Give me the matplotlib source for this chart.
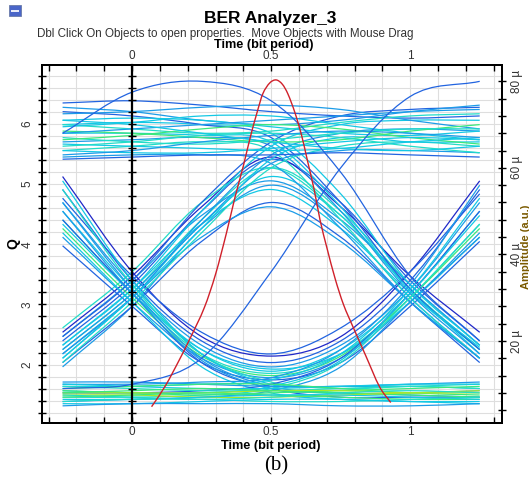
import matplotlib.pyplot as plt
from matplotlib.path import Path
from matplotlib.patches import PathPatch, Rectangle
from matplotlib.ticker import MultipleLocator, FixedLocator, FuncFormatter
import numpy as np

plt.rcParams['font.family'] = ['Liberation Sans', 'DejaVu Sans']

# eye traces, amplitude in micro units sampled every quarter bit
t_samples = [-0.25, 0, 0.25, 0.5, 0.75, 1.0, 1.25]

high_rail = [
    [75, 75.5, 74.5, 73, 72, 71.5, 72],
    [74, 73, 71, 70, 71, 73, 74.5],
    [72.5, 73, 74, 74.5, 73.5, 71, 69],
    [71, 71.5, 71, 69.5, 68, 67.5, 68.5],
    [70, 69, 68, 68.5, 70.5, 72, 72.5],
    [69.5, 70.5, 72, 72, 70, 68, 66.5],
    [68.5, 68, 67, 66, 66.5, 68.5, 70],
    [68, 69, 70, 71, 72, 73, 73.5],
    [67, 66, 65.5, 66.5, 68, 69, 69],
    [66.5, 67.5, 69, 70, 69, 67, 65.5],
    [65.5, 65, 64.5, 64, 64.5, 66, 67],
    [65, 66, 67.5, 68, 67, 65, 63.5],
    [64, 63.5, 63.5, 64.5, 66, 67, 66.5],
    [63, 64, 66, 67.5, 68.5, 68, 67],
    [62, 62.5, 63, 63, 63.5, 63, 62.5],
    [71, 70, 68, 66, 64.5, 64, 65],
]
low_rail = [
    [10.5, 10.5, 10, 9.5, 9.5, 10, 10.5],
    [10, 9.5, 9, 9, 9.5, 10, 10],
    [9.5, 9, 8.5, 8.5, 9, 9.5, 9],
    [9, 9.5, 10, 10, 9, 8, 7.5],
    [8.5, 8, 7.5, 8, 8.5, 9, 9.5],
    [8, 8, 8, 8.5, 8.5, 8, 8],
    [8, 8.5, 9, 8.5, 8, 7.5, 7],
    [7.5, 7.5, 7, 7, 7.5, 8, 8.5],
    [7.5, 7, 6.5, 7, 8, 8.5, 8],
    [7, 7.5, 8, 7.5, 7, 6.5, 6.5],
    [6.5, 6.5, 7, 7.5, 7.5, 7, 6.5],
    [6, 6.5, 6.5, 6, 6, 6.5, 7],
    [5.5, 5.5, 6, 6.5, 6.5, 6, 5.5],
    [5, 5.5, 5.5, 5.5, 5, 5, 5.5],
]
# isolated ones (0-1-0)
cap_traces = [
    [14, 28, 46, 56, 47, 30, 16],
    [16, 30, 47, 58, 49, 32, 17],
    [18, 31, 48, 60, 50, 33, 19],
    [20, 33, 50, 62, 52, 34, 20],
    [22, 35, 51, 62.5, 51, 35, 22],
    [15, 28, 43, 52, 44, 29, 15],
    [17, 30, 44, 51, 43, 29, 16],
    [19, 32, 47, 55, 46, 31, 18],
    [21, 34, 49, 57, 48, 33, 19],
    [23, 36, 52, 60, 49, 32, 18],
]
# isolated zeros (1-0-1)
cup_traces = [
    [58, 36, 21, 16.5, 21, 36, 57],
    [55, 34, 20, 15, 20, 34, 55],
    [52, 33, 19, 14, 19, 32, 52],
    [50, 32, 18, 13, 18, 31, 50],
    [48, 31, 17, 12.5, 17, 30, 47],
    [46, 30, 16.5, 12, 16.5, 30, 46],
    [44, 29, 16, 11.5, 16, 29, 45],
    [42, 28, 15, 11, 15, 28, 43],
    [53, 35, 22, 17, 23, 36, 54],
    [47, 31, 18, 13.5, 17, 29, 44],
]
one_one_zero = [
    [70, 70.5, 70, 68, 54, 33, 19],
    [66, 66.5, 67, 65, 50, 31, 17],
    [73, 72, 70, 67, 52, 32, 18],
    [64, 65, 66, 64, 48, 30, 16],
    [68, 68, 67.5, 66, 51, 31.5, 18.5],
    [62.5, 63, 63, 61, 46, 29, 16],
]
zero_one_one = [
    [17, 30, 48, 63, 68, 69, 68.5],
    [19, 32, 50, 65, 70, 71, 71],
    [15, 29, 45, 60, 65, 66, 65],
    [21, 34, 52, 66, 72, 73.5, 74],
    [18, 31, 47, 61, 64, 64, 63.5],
    [16, 30, 46, 62, 67, 66, 66],
]
one_zero_zero = [
    [52, 32, 16, 9.5, 8, 8, 8.5],
    [48, 31, 15, 9, 7, 7, 7],
    [55, 33, 17, 10.5, 9, 9.5, 10],
    [45, 29, 14, 8, 6.5, 6, 6],
    [50, 31, 15.5, 9, 8, 7.5, 7],
    [57, 34, 17, 10, 9.5, 9.5, 9],
]
zero_zero_one = [
    [8, 8, 8.5, 10, 16, 31, 50],
    [7, 7, 7.5, 9, 15, 30, 47],
    [9.5, 9.5, 10, 11, 17, 32, 53],
    [6, 6.5, 7, 8.5, 14, 29, 44],
    [8.5, 8, 8, 9.5, 15.5, 31, 49],
    [10, 10, 10.5, 11.5, 18, 33, 56],
]
big_arcs = [
    [68, 77.5, 80, 75.5, 59, 35, 20],
    [9, 10, 16, 36, 60, 76.5, 80],
]

# Q factor versus decision instant
q_time = [0.07, 0.12, 0.17, 0.21, 0.26, 0.30, 0.34, 0.37, 0.40, 0.425, 0.45,
          0.47, 0.495, 0.518, 0.54, 0.56, 0.586, 0.61, 0.63, 0.655, 0.676,
          0.70, 0.73, 0.76, 0.795, 0.84, 0.89, 0.93]
q_value = [1.30, 1.65, 2.08, 2.45, 2.95, 3.50, 4.20, 4.78, 5.30, 5.78, 6.20,
           6.50, 6.68, 6.73, 6.66, 6.50, 6.18, 5.80, 5.40, 4.90, 4.40,
           3.95, 3.43, 3.00, 2.62, 2.15, 1.63, 1.37]

# density colours
DB, BL, AZ, CY, AQ, GR, LI = ('#2028c8', '#2264e0', '#1c9ce8', '#14c8e4',
                              '#22dcc8', '#3ce87c', '#a8e82a')
high_colors = [BL, AZ, AZ, CY, AQ, CY, GR, AZ, AQ, GR, CY, AQ, CY, AZ, BL, CY]
low_colors = [AZ, CY, AQ, GR, GR, LI, GR, LI, AQ, GR, CY, AQ, CY, AZ]
cap_colors = [AZ, CY, AQ, BL, DB, BL, AZ, CY, AZ, AQ]
cup_colors = [DB, BL, AZ, CY, AQ, GR, AZ, BL, BL, CY]
trans_colors = [CY, AZ, BL, AQ, CY, AZ]


def smooth_path(x, y):
    # cubic Bezier through the samples, tangents from neighbouring points
    x = np.asarray(x, float)
    y = np.asarray(y, float)
    n = len(x)
    m = np.empty(n)
    m[1:-1] = (y[2:] - y[:-2]) / (x[2:] - x[:-2])
    m[0] = (y[1] - y[0]) / (x[1] - x[0])
    m[-1] = (y[-1] - y[-2]) / (x[-1] - x[-2])
    verts = [(x[0], y[0])]
    codes = [Path.MOVETO]
    for i in range(n - 1):
        h = x[i + 1] - x[i]
        verts += [(x[i] + h / 3, y[i] + m[i] * h / 3),
                  (x[i + 1] - h / 3, y[i + 1] - m[i + 1] * h / 3),
                  (x[i + 1], y[i + 1])]
        codes += [Path.CURVE4] * 3
    return Path(verts, codes)


fig = plt.figure(figsize=(5.29, 4.80), dpi=100)
ax = fig.add_axes([0.0794, 0.1188, 0.870, 0.746])
ax2 = ax.twinx()

x_lo, x_hi = -0.324, 1.331
ax.set_xlim(x_lo, x_hi)
ax.set_ylim(1.03, 6.98)
ax2.set_ylim(1.04, 83.8)

ax.grid(which='both', color='#dedede', lw=0.8)
ax.set_axisbelow(True)


def draw(traces, colors, lw=0.9):
    for tr, c in zip(traces, colors):
        ax.add_patch(PathPatch(smooth_path(t_samples, tr), fill=False,
                               edgecolor=c, lw=lw, zorder=2,
                               transform=ax2.transData))


draw(cap_traces, cap_colors)
draw(cup_traces, cup_colors)
draw(one_one_zero, trans_colors)
draw(zero_one_one, trans_colors[::-1])
draw(one_zero_zero, trans_colors[1:] + trans_colors[:1])
draw(zero_zero_one, trans_colors[2:] + trans_colors[:2])
draw(high_rail, high_colors)
draw(low_rail, low_colors)
draw(big_arcs, [BL, BL])

ax.add_patch(PathPatch(smooth_path(q_time, q_value), fill=False,
                       edgecolor='#d0202a', lw=1.0, zorder=4))

# axes ticks
ax.xaxis.set_major_locator(FixedLocator([0, 0.5, 1]))
ax.xaxis.set_minor_locator(MultipleLocator(0.1))
ax.yaxis.set_major_locator(MultipleLocator(1))
ax.yaxis.set_minor_locator(MultipleLocator(0.2))
ax.xaxis.set_major_formatter(FuncFormatter(lambda v, p: f'{v:g}'))
ax.tick_params(axis='x', which='both', top=True, labeltop=True,
               direction='in', length=4, width=1, labelsize=8.5,
               labelcolor='#333333', pad=2)
ax.tick_params(axis='y', which='both', direction='inout', length=6,
               width=1, labelsize=8.5, labelcolor='#333333', pad=3)
for lab in ax.get_yticklabels():
    lab.set_rotation(90)
    lab.set_va('center')

ax2.yaxis.set_major_locator(FixedLocator([20, 40, 60, 80]))
ax2.yaxis.set_minor_locator(MultipleLocator(4))
ax2.yaxis.set_major_formatter(FuncFormatter(lambda v, p: f'{v:.0f} µ'))
ax2.tick_params(axis='y', which='both', direction='inout', length=6,
                width=1, labelsize=8.5, labelcolor='#333333', pad=3)
for lab in ax2.get_yticklabels():
    lab.set_rotation(90)
    lab.set_va('center')

for a in (ax, ax2):
    for s in a.spines.values():
        s.set_linewidth(1.4)

# Q axis line at t = 0
sec = ax.secondary_yaxis((0 - x_lo) / (x_hi - x_lo))
sec.yaxis.set_major_locator(MultipleLocator(0.2))
sec.tick_params(direction='inout', length=6, width=1,
                labelleft=False, labelright=False)
sec.spines['left'].set_linewidth(1.6)
sec.spines['right'].set_linewidth(1.6)
sec.set_zorder(5)

# titles and labels
fig.text(270 / 529, 1 - 18 / 480, 'BER Analyzer_3', fontsize=12.5,
         fontweight='bold', ha='center', va='center')
fig.text(225 / 529, 1 - 34 / 480,
         'Dbl Click On Objects to open properties.  Move Objects with Mouse Drag',
         fontsize=8.4, color='#333333', ha='center', va='center')
fig.text(264 / 529, 1 - 45 / 480, 'Time (bit period)', fontsize=9.2,
         fontweight='bold', ha='center', va='center')
fig.text(271 / 529, 1 - 446 / 480, 'Time (bit period)', fontsize=9.2,
         fontweight='bold', ha='center', va='center')
fig.text(13 / 529, 1 - 244 / 480, 'Q', fontsize=10, fontweight='bold',
         rotation=90, ha='center', va='center')
fig.text(0.995, 1 - 247 / 480, 'Amplitude (a.u.)', fontsize=8,
         fontweight='bold', color='#7a5a00', rotation=90,
         ha='center', va='center')
fig.text(276 / 529, 1 - 466 / 480, '(b)', fontsize=15,
         family=['Liberation Serif', 'DejaVu Serif'], ha='center', va='center')

# window icon
fig.add_artist(Rectangle((9 / 529, 1 - 16 / 480), 12 / 529, 11 / 480,
                         transform=fig.transFigure, facecolor='#4a66c8',
                         edgecolor='#6a7aa8', lw=0.6))
fig.add_artist(Rectangle((11 / 529, 1 - 12 / 480), 8 / 529, 2 / 480,
                         transform=fig.transFigure, facecolor='#e8ecf8',
                         edgecolor='none'))

fig.savefig('out.png', dpi=100)
